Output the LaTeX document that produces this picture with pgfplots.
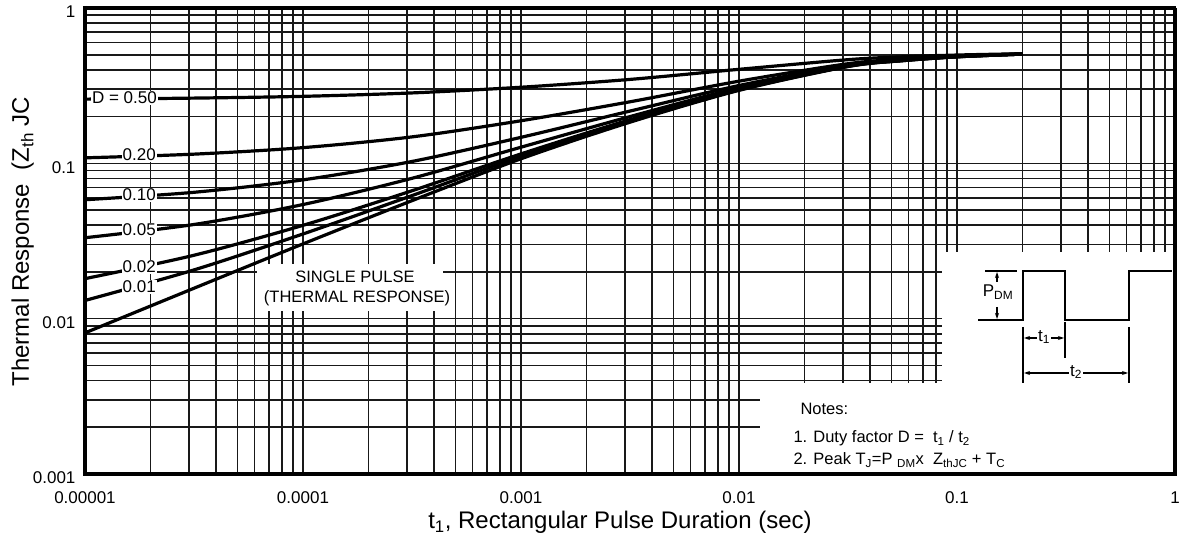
\documentclass[border=0pt]{standalone}
\usepackage{fontspec}
\setmainfont{Liberation Sans}
\usepackage{pgfplots}
\pgfplotsset{compat=1.18}
\usetikzlibrary{arrows.meta}
\newcommand\fs[1]{\fontsize{#1}{#1}\selectfont}
\tikzset{curve/.style={black, line width=3.2pt, smooth, no marks},
         lab/.style={fill=white, inner sep=1pt, font=\fs{17}}}

\begin{document}
\begin{tikzpicture}
\begin{axis}[
  name=ax, at={(0,0)}, anchor=south west,
  xmode=log, ymode=log, scale only axis, width=1090pt, height=466pt,
  xmin=1e-5, xmax=1, ymin=1e-3, ymax=1,
  grid=both,
  major grid style={black!90, line width=1.6pt},
  minor grid style={black!90, line width=1.6pt},
  major tick length=0pt, minor tick length=0pt,
  axis line style={line width=3pt},
  xtick={1e-5,1e-4,1e-3,1e-2,1e-1,1},
  xticklabels={0.00001,0.0001,0.001,0.01,0.1,1},
  ytick={1e-3,1e-2,1e-1,1},
  yticklabels={0.001,0.01,0.1,1},
  xticklabel style={font=\fs{17}, yshift=-14pt},
  yticklabel style={font=\fs{17}, xshift=-6pt, yshift=-4pt},
]
% cleared areas for the annotations
\fill[white] (axis cs:6.15e-5,0.01127) rectangle (axis cs:4.39e-4,0.0226);
\fill[white] (axis cs:0.0125,0.0005) rectangle (axis cs:2,0.00385);
\fill[white] (axis cs:0.085,0.0005) rectangle (axis cs:2,0.0267);

% D = 0.50
\addplot[curve] coordinates {(1e-5,0.259) (3.162e-5,0.263) (1e-4,0.270) (3.162e-4,0.284) (1e-3,0.309) (3.162e-3,0.347) (1e-2,0.403) (3.162e-2,0.465) (0.0562,0.485) (0.1,0.498) (0.2,0.508)};
% D = 0.20
\addplot[curve] coordinates {(1e-5,0.1085) (3.162e-5,0.1146) (1e-4,0.1262) (3.162e-4,0.148) (1e-3,0.188) (3.162e-3,0.249) (1e-2,0.338) (3.162e-2,0.438) (0.0562,0.468) (0.1,0.490) (0.2,0.506)};
% D = 0.10
\addplot[curve] coordinates {(1e-5,0.0583) (3.162e-5,0.0651) (1e-4,0.0783) (3.162e-4,0.1028) (1e-3,0.147) (3.162e-3,0.217) (1e-2,0.317) (3.162e-2,0.429) (0.0562,0.463) (0.1,0.488) (0.2,0.506)};
% D = 0.05
\addplot[curve] coordinates {(1e-5,0.0332) (3.162e-5,0.0404) (1e-4,0.0543) (3.162e-4,0.0801) (1e-3,0.127) (3.162e-3,0.200) (1e-2,0.306) (3.162e-2,0.425) (0.0562,0.461) (0.1,0.486) (0.2,0.505)};
% D = 0.02
\addplot[curve] coordinates {(1e-5,0.0181) (3.162e-5,0.0256) (1e-4,0.0399) (3.162e-4,0.0666) (1e-3,0.115) (3.162e-3,0.191) (1e-2,0.299) (3.162e-2,0.422) (0.0562,0.459) (0.1,0.486) (0.2,0.505)};
% D = 0.01
\addplot[curve] coordinates {(1e-5,0.0131) (3.162e-5,0.0206) (1e-4,0.0351) (3.162e-4,0.0620) (1e-3,0.111) (3.162e-3,0.187) (1e-2,0.297) (3.162e-2,0.421) (0.0562,0.458) (0.1,0.485) (0.2,0.505)};
% single pulse
\addplot[curve] coordinates {(1e-5,0.0081) (3.162e-5,0.0157) (1e-4,0.0303) (3.162e-4,0.0575) (1e-3,0.107) (3.162e-3,0.184) (1e-2,0.295) (3.162e-2,0.420) (0.0562,0.458) (0.1,0.485) (0.2,0.505)};
\end{axis}

% annotation layer in pixel-like units (origin at top-left of the figure)
\begin{scope}[shift={(ax.south west)}, shift={(-85pt,474pt)}, x=1pt, y=-1pt]
  \path (0,0) rectangle (1189,546);
  % frame
  \draw[line width=4.5pt] (85,6) -- (85,476);
  \draw[line width=4.5pt] (83,474) -- (1177,474);
  \draw[line width=3.5pt] (83,8) -- (1176,8);
  \draw[line width=3.5pt] (1175,8) -- (1175,476);

  % duty-factor labels
  \node[lab, anchor=east] at (158,98) {D = 0.50};
  \node[lab, anchor=east] at (157,155) {0.20};
  \node[lab, anchor=east] at (157,195) {0.10};
  \node[lab, anchor=east] at (157,230) {0.05};
  \node[lab, anchor=east] at (157,267) {0.02};
  \node[lab, anchor=east] at (157,287) {0.01};

  \node[font=\fs{16.5}] at (355,277) {SINGLE PULSE};
  \node[font=\fs{16.5}] at (357,298) {(THERMAL RESPONSE)};

  % pulse train sketch
  \draw[line width=1.5pt] (978,320) -- (1023,320) -- (1023,271) -- (1065,271) -- (1065,320)
        -- (1129,320) -- (1129,271) -- (1172,271);
  \draw[line width=1.5pt] (985,271) -- (1017,271);
  \draw[line width=1.3pt, -{Stealth[length=6pt,width=4pt]}] (997,282) -- (997,272);
  \draw[line width=1.3pt, -{Stealth[length=6pt,width=4pt]}] (997,307) -- (997,319);
  \node[font=\fs{17}] at (998,292) {P\textsubscript{DM}};
  \draw[line width=1.3pt] (1023,327) -- (1023,383);
  \draw[line width=1.3pt] (1065,322) -- (1065,358);
  \draw[line width=1.3pt] (1129,327) -- (1129,383);
  \draw[line width=1.3pt, {Stealth[length=6pt,width=4pt]}-{Stealth[length=6pt,width=4pt]}] (1024,338) -- (1064,338);
  \node[fill=white, inner sep=1pt, font=\fs{17}] at (1044,337) {t\textsubscript{1}};
  \draw[line width=1.3pt, {Stealth[length=6pt,width=4pt]}-{Stealth[length=6pt,width=4pt]}] (1024,373) -- (1128,373);
  \node[fill=white, inner sep=1pt, font=\fs{17}] at (1076,372) {t\textsubscript{2}};

  % notes
  \node[anchor=base west, font=\fs{16.5}] at (797,415) {Notes:};
  \node[anchor=base west, font=\fs{16.5}] at (790,443) {1. Duty factor D =\ \ t\textsubscript{1} / t\textsubscript{2}};
  \node[anchor=base west, font=\fs{16.5}] at (790,465) {2. Peak T\textsubscript{J}=P \textsubscript{DM}x\ \ Z\textsubscript{thJC} + T\textsubscript{C}};

  % axis titles
  \node[anchor=base, font=\fs{24}] at (620,529) {t\textsubscript{1}, Rectangular Pulse Duration (sec)};
  \node[anchor=base west, rotate=90, font=\fs{24}] at (29,390) {Thermal Response\ \ (Z\raisebox{-0.35ex}{\fs{17}th} JC};
\end{scope}
\end{tikzpicture}
\end{document}
